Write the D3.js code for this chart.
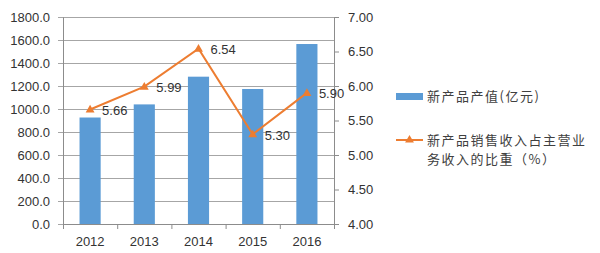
<!DOCTYPE html>
<html>
<head>
<meta charset="utf-8">
<script src="https://cdn.jsdelivr.net/npm/d3@7"></script>
<style>
body{margin:0;background:#fff;}
svg{display:block;}
text{font-family:"Liberation Sans",Arial,sans-serif;fill:#333;}
.legend text{font-family:"Noto Sans CJK SC","Liberation Sans",sans-serif;font-size:13px;letter-spacing:1.5px;fill:#404040;}
</style>
</head>
<body>
<svg width="600" height="253"></svg>
<script>
var years=['2012','2013','2014','2015','2016'];
var outputValues=[926,1040,1281,1174,1565];
var shareValues=[5.66,5.99,6.54,5.30,5.90];
var leftTicks=[0,200,400,600,800,1000,1200,1400,1600,1800];
var rightTicks=[4.0,4.5,5.0,5.5,6.0,6.5,7.0];
var legendBar='新产品产值(亿元)';
var legendLine=['新产品销售收入占主营业','务收入的比重（%）'];

var drawChart=function(){
  let svg=d3.select('svg');
  let margin={top:17,left:63,right:266,bottom:29};
  let plotWidth=600-margin.left-margin.right;
  let plotHeight=253-margin.top-margin.bottom;

  let xScale=d3.scaleBand().domain(years).range([0,plotWidth]);
  let yLeft=d3.scaleLinear().domain([0,1800]).range([plotHeight,0]);
  let yRight=d3.scaleLinear().domain([4,7]).range([plotHeight,0]);

  let plot=svg.append('g').attr('transform','translate('+margin.left+','+margin.top+')');

  // gridlines
  plot.append('g').selectAll('line').data(leftTicks).enter().append('line')
    .attr('x1',-5).attr('x2',plotWidth)
    .attr('y1',d=>yLeft(d)+0.5).attr('y2',d=>yLeft(d)+0.5)
    .attr('stroke','#a6a6a6').attr('stroke-width',1);

  // left axis
  let yAxisL=d3.axisLeft(yLeft).tickValues(leftTicks).tickFormat(d3.format('.1f')).tickSize(5).tickPadding(8);
  let gl=plot.append('g').call(yAxisL);
  gl.select('.domain').attr('stroke','#8c8c8c');
  gl.selectAll('.tick line').attr('stroke','#a6a6a6');
  gl.selectAll('text').style('font-size','13px').attr('fill','#333');

  // right axis
  let yAxisR=d3.axisRight(yRight).tickValues(rightTicks).tickFormat(d3.format('.2f')).tickSize(5).tickPadding(9);
  let gr=plot.append('g').attr('transform','translate('+plotWidth+',0)').call(yAxisR);
  gr.select('.domain').attr('stroke','#8c8c8c');
  gr.selectAll('.tick line').attr('stroke','#8c8c8c');
  gr.selectAll('text').style('font-size','13px').attr('fill','#333');

  // bars
  let barW=xScale.bandwidth()*0.39;
  plot.selectAll('rect.bar').data(outputValues).enter().append('rect')
    .attr('class','bar')
    .attr('x',(d,i)=>xScale(years[i])+xScale.bandwidth()/2-barW/2)
    .attr('width',barW)
    .attr('y',d=>yLeft(d))
    .attr('height',d=>plotHeight-yLeft(d))
    .attr('fill','#5b9bd5');

  // bottom axis
  let xAxis=d3.axisBottom(xScale).tickSize(0).tickPadding(13);
  let gx=plot.append('g').attr('transform','translate(0,'+plotHeight+')').call(xAxis);
  gx.select('.domain').attr('stroke','#8c8c8c');
  gx.selectAll('text').style('font-size','13px').attr('fill','#333');
  gx.selectAll('line.sep').data(d3.range(years.length+1)).enter().append('line')
    .attr('class','sep')
    .attr('x1',d=>d*xScale.step()+0.5).attr('x2',d=>d*xScale.step()+0.5)
    .attr('y1',0).attr('y2',5).attr('stroke','#8c8c8c');

  // line
  let cx=i=>xScale(years[i])+xScale.bandwidth()/2;
  let line=d3.line().x((d,i)=>cx(i)).y(d=>yRight(d));
  plot.append('path').datum(shareValues).attr('d',line)
    .attr('fill','none').attr('stroke','#ed7d31').attr('stroke-width',2);
  let tri=d3.symbol().type(d3.symbolTriangle).size(34);
  plot.selectAll('path.mk').data(shareValues).enter().append('path')
    .attr('class','mk').attr('d',tri)
    .attr('transform',(d,i)=>'translate('+cx(i)+','+(yRight(d)+0.5)+')')
    .attr('fill','#ed7d31');
  plot.selectAll('text.lbl').data(shareValues).enter().append('text')
    .attr('class','lbl')
    .attr('x',(d,i)=>cx(i)+12).attr('y',d=>yRight(d)+1)
    .attr('dy','0.35em')
    .style('font-size','13px')
    .text(d=>d3.format('.2f')(d));

  // legend
  let lg=svg.append('g').attr('class','legend');
  lg.append('rect').attr('x',396).attr('y',93).attr('width',27).attr('height',7).attr('fill','#5b9bd5');
  lg.append('text').attr('x',427).attr('y',96).attr('dy','0.35em').text(legendBar);
  lg.append('line').attr('x1',396).attr('x2',423).attr('y1',140).attr('y2',140)
    .attr('stroke','#ed7d31').attr('stroke-width',2);
  lg.append('path').attr('d',tri).attr('transform','translate(409.5,140)').attr('fill','#ed7d31');
  lg.selectAll('text.l2').data(legendLine).enter().append('text')
    .attr('class','l2').attr('x',427).attr('y',(d,i)=>140+i*19).attr('dy','0.35em').text(d=>d);
};
drawChart();
</script>
</body>
</html>
